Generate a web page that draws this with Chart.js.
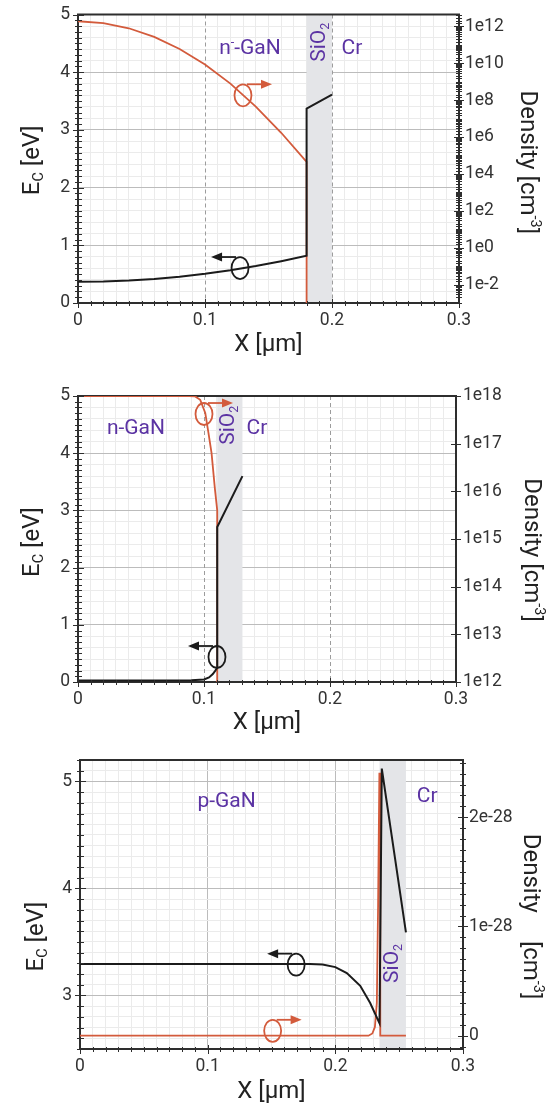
<!DOCTYPE html>
<html>
<head>
<meta charset="utf-8">
<script src="https://cdn.jsdelivr.net/npm/chart.js@4.4.0/dist/chart.umd.min.js"></script>
<style>
  html, body { margin: 0; padding: 0; background: #fff; }
  #wrap { position: relative; width: 560px; height: 1108px; }
  .panel { position: absolute; left: 0; }
</style>
</head>
<body>
<div id="wrap">
  <canvas id="c1" class="panel" style="top:0" width="560" height="370"></canvas>
  <canvas id="c2" class="panel" style="top:370px" width="560" height="370"></canvas>
  <canvas id="c3" class="panel" style="top:740px" width="560" height="368"></canvas>
</div>
<script>
// ---- data ----
const xTickValues = [0, 0.1, 0.2, 0.3];
const xTickLabels = ['0', '0.1', '0.2', '0.3'];

// panel 1 : n- GaN / SiO2 / Cr
const p1EcX = [0, 0.02, 0.04, 0.06, 0.08, 0.10, 0.12, 0.14, 0.16, 0.18, 0.18, 0.20];
const p1Ec = [0.37, 0.374, 0.39, 0.416, 0.454, 0.505, 0.566, 0.64, 0.725, 0.82, 3.37, 3.61];
const p1DensX = [0, 0.02, 0.04, 0.06, 0.08, 0.10, 0.12, 0.14, 0.16, 0.18, 0.18];
const p1Dens = [1.9e12, 1.5e12, 7.9e11, 2.7e11, 5.9e10, 8.5e9, 7.9e8, 4.5e7, 1.7e6, 4.5e4, 1e-6];
const p1EcTicks = [0, 1, 2, 3, 4, 5];
const p1DensTicks = ['1e-2', '1e0', '1e2', '1e4', '1e6', '1e8', '1e10', '1e12'];

// panel 2 : n-GaN / SiO2 / Cr
const p2EcX = [0, 0.06, 0.09, 0.1, 0.104, 0.107, 0.109, 0.1105, 0.1105, 0.1305];
const p2Ec = [0.025, 0.025, 0.03, 0.045, 0.08, 0.14, 0.2, 0.25, 2.71, 3.6];
const p2DensX = [0, 0.088, 0.093, 0.097, 0.101, 0.1035, 0.106, 0.1087, 0.1105, 0.1105];
const p2Dens = [1e18, 1e18, 9.8e17, 8.3e17, 4.4e17, 1.7e17, 6.3e16, 1.1e16, 4e15, 1e5];
const p2EcTicks = [0, 1, 2, 3, 4, 5];
const p2DensTicks = ['1e12', '1e13', '1e14', '1e15', '1e16', '1e17', '1e18'];

// panel 3 : p-GaN / SiO2 / Cr   (density in units of 1e-28 cm^-3)
const p3EcX = [0, 0.18, 0.19, 0.2, 0.209, 0.2195, 0.2273, 0.2346, 0.2364, 0.2553];
const p3Ec = [3.295, 3.295, 3.29, 3.265, 3.21, 3.09, 2.93, 2.74, 5.12, 3.59];
const p3DensX = [0, 0.226, 0.229, 0.231, 0.2325, 0.2335, 0.2345, 0.2352, 0.2352, 0.2553];
const p3DensE28 = [0, 0, 0.02, 0.08, 0.3, 1.2, 2.4, 2.4, 0, 0];
const p3EcTicks = [3, 4, 5];
const p3DensTickValues = [0, 1, 2];
const p3DensTicks = ['0', '1e-28', '2e-28'];

// ---- styles ----
const RED = '#d35b3c';
const BLACK = '#1b1b1b';
const PURPLE = '#5b33a3';
const AXIS = '#2e2e2e';
const TICK = '#333333';
const TITLE = '#222222';
const MAJOR = '#bcbcbc';
const MINOR = '#ebebeb';
const BAND = '#e4e5e8';
const NONE = 'rgba(0,0,0,0)';
const FONT = 'Roboto, "Open Sans", sans-serif';
const tickFont = { family: FONT, size: 17.5 };

function zip(xs, ys) { return xs.map((v, i) => ({ x: v, y: ys[i] })); }
function isStep(v, step) { return Math.abs(v / step - Math.round(v / step)) < 1e-6; }

function valueLabel(values, labels) {
  return v => {
    const i = values.findIndex(t => Math.abs(t - v) < 1e-6);
    return i >= 0 ? labels[i] : '';
  };
}
function logLabel(list) {
  return v => {
    const e = Math.log10(v), r = Math.round(e);
    if (Math.abs(e - r) > 1e-6) return '';
    const lab = '1e' + r;
    return list.includes(lab) ? lab : '';
  };
}

// text with sub/superscripts, centred on (cx, cy)
function richText(ctx, parts, size, cx, cy, angle, color) {
  const small = size * 0.6;
  const items = parts.map(p => typeof p === 'string' ? { t: p } : p);
  ctx.save();
  ctx.translate(cx, cy);
  ctx.rotate(angle);
  ctx.fillStyle = color;
  ctx.textAlign = 'left';
  ctx.textBaseline = 'alphabetic';
  let w = 0;
  items.forEach(p => {
    ctx.font = (p.sub || p.sup ? small : size) + 'px ' + FONT;
    p.w = ctx.measureText(p.t || '').width + (p.gap || 0);
    w += p.w;
  });
  let px = -w / 2;
  const base = size * 0.355;
  items.forEach(p => {
    ctx.font = (p.sub || p.sup ? small : size) + 'px ' + FONT;
    const dy = p.sub ? size * 0.2 : (p.sup ? -size * 0.4 : 0);
    if (p.t) ctx.fillText(p.t, px, base + dy);
    px += p.w;
  });
  ctx.restore();
}

// the small "circle + arrow" markers telling which axis a curve belongs to
function loop(ctx, cx, cy, dir, color) {
  const rx = 8.5, ry = 11;
  ctx.save();
  ctx.strokeStyle = color;
  ctx.fillStyle = color;
  ctx.lineWidth = 1.8;
  ctx.beginPath();
  ctx.ellipse(cx, cy, rx, ry, 0, 0, Math.PI * 2);
  ctx.stroke();
  const y = cy - ry, tip = cx + dir * 29;
  ctx.beginPath();
  ctx.moveTo(cx + dir * 4, y);
  ctx.lineTo(tip - dir * 8, y);
  ctx.stroke();
  ctx.beginPath();
  ctx.moveTo(tip, y);
  ctx.lineTo(tip - dir * 11, y - 4.5);
  ctx.lineTo(tip - dir * 11, y + 4.5);
  ctx.closePath();
  ctx.fill();
  ctx.restore();
}

function seg(ctx, x1, y1, x2, y2) {
  ctx.beginPath();
  ctx.moveTo(x1, y1);
  ctx.lineTo(x2, y2);
  ctx.stroke();
}

const decor = {
  id: 'decor',
  beforeDatasetsDraw(chart, args, o) {
    const { ctx, chartArea: a } = chart;
    const x = chart.scales.x;
    ctx.save();
    const b0 = x.getPixelForValue(o.band[0]), b1 = x.getPixelForValue(o.band[1]);
    ctx.fillStyle = BAND;
    ctx.fillRect(b0, a.top + 1, b1 - b0, a.bottom - a.top - 2);
    ctx.strokeStyle = '#9c9c9c';
    ctx.lineWidth = 1;
    ctx.setLineDash([4, 3]);
    o.dashed.forEach(v => {
      const px = Math.round(x.getPixelForValue(v)) + 0.5;
      seg(ctx, px, a.top, px, a.bottom);
    });
    ctx.setLineDash([]);
    ctx.strokeStyle = AXIS;
    ctx.lineWidth = 2;
    seg(ctx, a.left - 1, a.top, a.right + 1, a.top);
    ctx.restore();
  },
  afterDatasetsDraw(chart, args, o) {
    const { ctx, chartArea: a } = chart;
    const x = chart.scales.x, y = chart.scales.yE;
    o.labels.forEach(l => richText(ctx, l.parts, 21, x.getPixelForValue(l.x), y.getPixelForValue(l.y),
      l.rot ? -Math.PI / 2 : 0, PURPLE));
    o.loops.forEach(l => loop(ctx, x.getPixelForValue(l.x), y.getPixelForValue(l.y), l.dir, l.color));
    const midY = (a.top + a.bottom) / 2;
    richText(ctx, ['E', { t: 'C', sub: true }, ' [eV]'], 24, o.leftTitle[0], midY + o.leftTitle[1], -Math.PI / 2, TITLE);
    richText(ctx, o.rightParts, 24, o.rightTitle[0], midY + o.rightTitle[1], Math.PI / 2, TITLE);
  },
  // tick marks crossing the frame, like the original plotting tool
  afterDraw(chart) {
    const { ctx, chartArea: a, scales } = chart;
    ctx.save();
    ctx.strokeStyle = AXIS;
    ctx.lineWidth = 1;
    scales.x.ticks.forEach(t => {
      const p = Math.round(scales.x.getPixelForValue(t.value)) + 0.5;
      const big = t.label !== '';
      seg(ctx, p, a.bottom - (big ? 4 : 2), p, a.bottom + (big ? 5 : 3));
    });
    scales.yE.ticks.forEach(t => {
      const p = Math.round(scales.yE.getPixelForValue(t.value)) + 0.5;
      const big = t.label !== '';
      seg(ctx, a.left - (big ? 5 : 3), p, a.left + (big ? 6 : 4), p);
    });
    scales.yD.ticks.forEach(t => {
      const p = Math.round(scales.yD.getPixelForValue(t.value)) + 0.5;
      if (p < a.top - 1 || p > a.bottom + 1) return;
      const big = t.label !== '';
      seg(ctx, a.right - (big ? 5 : 3), p, a.right + (big ? 5 : 3), p);
    });
    ctx.restore();
  }
};

function xAxis(g) {
  return {
    type: 'linear', position: 'bottom', min: 0, max: 0.3,
    ticks: { stepSize: 0.01, autoSkip: false, maxRotation: 0, padding: 3, color: TICK, font: tickFont,
      callback: valueLabel(xTickValues, xTickLabels) },
    grid: {
      color: c => isStep(c.tick.value, 0.1) ? (g.solidMajorX ? MAJOR : NONE) : MINOR,
      tickColor: NONE, tickLength: 4
    },
    border: { color: AXIS, width: 2 },
    title: { display: true, text: 'X [μm]', color: TITLE, font: { family: FONT, size: 24 },
      padding: { top: 0, bottom: g.xTitlePad } },
    afterFit: s => { s.height = g.xAxisH; }
  };
}

function ecAxis(g, tickVals) {
  return {
    type: 'linear', position: 'left', min: g.ecMin, max: g.ecMax,
    ticks: { stepSize: 0.1, autoSkip: false, padding: 4, color: TICK, font: tickFont,
      callback: valueLabel(tickVals, tickVals.map(String)) },
    grid: {
      color: c => isStep(c.tick.value, 1) ? MAJOR : (isStep(c.tick.value, g.minorStep) ? MINOR : NONE),
      tickColor: NONE, tickLength: 4
    },
    border: { color: AXIS, width: 2 },
    afterFit: s => { s.width = g.leftW; }
  };
}

function lines(ecPts, densPts) {
  return [
    { label: 'Ec', data: ecPts, yAxisID: 'yE', showLine: true, borderColor: BLACK, backgroundColor: BLACK,
      borderWidth: 2, pointRadius: 0, tension: 0 },
    { label: 'Density', data: densPts, yAxisID: 'yD', showLine: true, borderColor: RED, backgroundColor: RED,
      borderWidth: 1.8, pointRadius: 0, tension: 0 }
  ];
}

function makeChart(id, g, datasets, densAxis, deco) {
  densAxis.afterFit = s => { s.width = g.rightW; };
  return new Chart(document.getElementById(id), {
    type: 'scatter',
    data: { datasets: datasets },
    options: {
      responsive: false,
      animation: false,
      layout: { autoPadding: false, padding: { top: g.padTop, left: 0, right: 0, bottom: 0 } },
      scales: { x: xAxis(g), yE: ecAxis(g, g.ecTicks), yD: densAxis },
      plugins: { legend: { display: false }, tooltip: { enabled: false }, decor: deco }
    },
    plugins: [decor]
  });
}

// ---- panel 1 ----
makeChart('c1',
  { padTop: 14, xAxisH: 67, xTitlePad: 11, leftW: 78, rightW: 101, ecMin: 0, ecMax: 5, minorStep: 0.2,
    ecTicks: p1EcTicks, solidMajorX: false },
  lines(zip(p1EcX, p1Ec), zip(p1DensX, p1Dens)),
  {
    type: 'logarithmic', position: 'right', min: 1e-3, max: 4.4e12,
    ticks: { autoSkip: false, padding: 2, color: TICK, font: tickFont, callback: logLabel(p1DensTicks) },
    grid: { drawOnChartArea: false, tickColor: NONE, tickLength: 4 },
    border: { color: AXIS, width: 2 }
  },
  {
    band: [0.18, 0.2], dashed: [0.1, 0.2],
    labels: [
      { x: 0.1354, y: 4.44, parts: ['n', { t: '-', sup: true }, '-GaN'] },
      { x: 0.1886, y: 4.52, parts: ['SiO', { t: '2', sub: true }], rot: true },
      { x: 0.2157, y: 4.45, parts: ['Cr'] }
    ],
    loops: [
      { x: 0.1299, y: 3.60, dir: 1, color: RED },
      { x: 0.1276, y: 0.606, dir: -1, color: BLACK }
    ],
    leftTitle: [30, 1.5], rightTitle: [530, 3.5],
    rightParts: ['Density [cm', { t: '-3', sup: true }, ']']
  });

// ---- panel 2 ----
makeChart('c2',
  { padTop: 26, xAxisH: 58, xTitlePad: 3, leftW: 78, rightW: 104, ecMin: 0, ecMax: 5, minorStep: 0.2,
    ecTicks: p2EcTicks, solidMajorX: false },
  lines(zip(p2EcX, p2Ec), zip(p2DensX, p2Dens)),
  {
    type: 'logarithmic', position: 'right', min: 1e12, max: 1e18,
    afterBuildTicks: s => { s.ticks = s.ticks.filter(t => isStep(Math.log10(t.value), 1)); },
    ticks: { autoSkip: false, padding: 2, color: TICK, font: tickFont, callback: logLabel(p2DensTicks) },
    grid: { drawOnChartArea: false, tickColor: NONE, tickLength: 5 },
    border: { color: AXIS, width: 2 }
  },
  {
    band: [0.1105, 0.1305], dashed: [0.1, 0.2],
    labels: [
      { x: 0.046, y: 4.47, parts: ['n-GaN'] },
      { x: 0.1175, y: 4.49, parts: ['SiO', { t: '2', sub: true }], rot: true },
      { x: 0.142, y: 4.47, parts: ['Cr'] }
    ],
    loops: [
      { x: 0.1, y: 4.685, dir: 1, color: RED },
      { x: 0.1103, y: 0.437, dir: -1, color: BLACK }
    ],
    leftTitle: [30, 3], rightTitle: [534, 11],
    rightParts: ['Density [cm', { t: '-3', sup: true }, ']']
  });

// ---- panel 3 ----
makeChart('c3',
  { padTop: 20, xAxisH: 59, xTitlePad: 1.6, leftW: 80, rightW: 97, ecMin: 2.5, ecMax: 5.2, minorStep: 0.1,
    ecTicks: p3EcTicks, solidMajorX: true },
  lines(zip(p3EcX, p3Ec), zip(p3DensX, p3DensE28)),
  {
    type: 'linear', position: 'right', min: -0.122, max: 2.525,
    ticks: { stepSize: 0.1, autoSkip: false, includeBounds: false, padding: 2, color: TICK, font: tickFont,
      callback: valueLabel(p3DensTickValues, p3DensTicks) },
    grid: { drawOnChartArea: false, tickColor: NONE, tickLength: 4 },
    border: { color: AXIS, width: 2 }
  },
  {
    band: [0.2346, 0.2553], dashed: [],
    labels: [
      { x: 0.1148, y: 4.83, parts: ['p-GaN'] },
      { x: 0.2429, y: 3.30, parts: ['SiO', { t: '2', sub: true }], rot: true },
      { x: 0.272, y: 4.88, parts: ['Cr'] }
    ],
    loops: [
      { x: 0.1693, y: 3.288, dir: -1, color: BLACK },
      { x: 0.1509, y: 2.67, dir: 1, color: RED }
    ],
    leftTitle: [34, 32], rightTitle: [533, 12],
    rightParts: ['Density', { gap: 28 }, '[cm', { t: '-3', sup: true }, ']']
  });
</script>
</body>
</html>
